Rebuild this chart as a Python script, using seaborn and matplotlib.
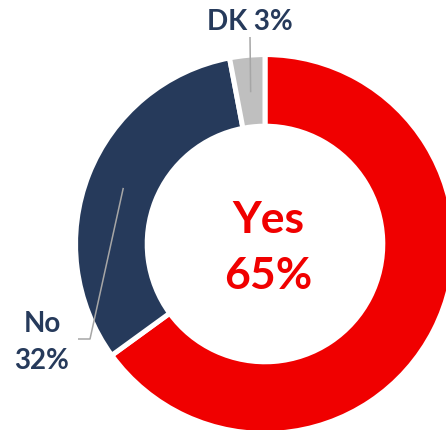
import numpy as np
import matplotlib
matplotlib.use("Agg")
import matplotlib.pyplot as plt
import seaborn as sns

# Survey answers
labels = ["Yes", "No", "DK"]
values = [65, 32, 3]
colors = ["#f00000", "#263a5b", "#bfbfbf"]
text_color = "#263a5b"

sns.set_theme(style="white")
plt.rcParams["font.family"] = ["Lato", "DejaVu Sans"]

W, H = 446, 431
fig = plt.figure(figsize=(W / 100, H / 100), dpi=100)
ax = fig.add_axes([0, 0, 1, 1])

# pixel-like helpers: donut centre and outer radius in figure pixels
CX, CY, R = 265, 245, 187
def px(x, y):
    return (x - CX) / R, (CY - y) / R

ring = 0.37
edge_w = 3.6
wedges, _ = ax.pie(values, colors=sns.color_palette(colors), startangle=90,
                   counterclock=False, radius=1 + 0.013,
                   wedgeprops=dict(width=ring + 0.013, edgecolor="white",
                                   linewidth=edge_w))

ax.set_aspect("auto")
x0, y1 = px(0, 0)
x1, y0 = px(W, H)
ax.set_xlim(x0, x1)
ax.set_ylim(y0, y1)
ax.axis("off")

def mid_point(w):
    ang = np.deg2rad((w.theta1 + w.theta2) / 2)
    r = 1 - ring / 2
    return r * np.cos(ang), r * np.sin(ang)

line_kw = dict(color="#a6a6a6", lw=1.1, solid_capstyle="butt", zorder=5)

# centre label
ax.text(*px(268, 233), "Yes", ha="center", va="baseline", fontsize=32,
        fontweight="bold", color=colors[0])
ax.text(*px(268, 289), f"{values[0]}%", ha="center", va="baseline",
        fontsize=32, fontweight="bold", color=colors[0])

# DK label with leader
mx, my = mid_point(wedges[2])
tx, ty = px(250, 38)
ax.plot([mx, tx], [my, ty], **line_kw)
ax.text(*px(250, 30), f"{labels[2]} {values[2]}%", ha="center", va="baseline",
        fontsize=20, fontweight="bold", color=text_color)

# No label with elbow leader
mx, my = mid_point(wedges[1])
ex, ey = px(90, 340)
hx, hy = px(78, 340)
ax.plot([mx, ex, hx], [my, ey, hy], **line_kw)
ax.text(*px(42, 332), labels[1], ha="center", va="baseline", fontsize=20,
        fontweight="bold", color=text_color)
ax.text(*px(42, 369), f"{values[1]}%", ha="center", va="baseline", fontsize=20,
        fontweight="bold", color=text_color)

fig.savefig("out.png", dpi=100)
